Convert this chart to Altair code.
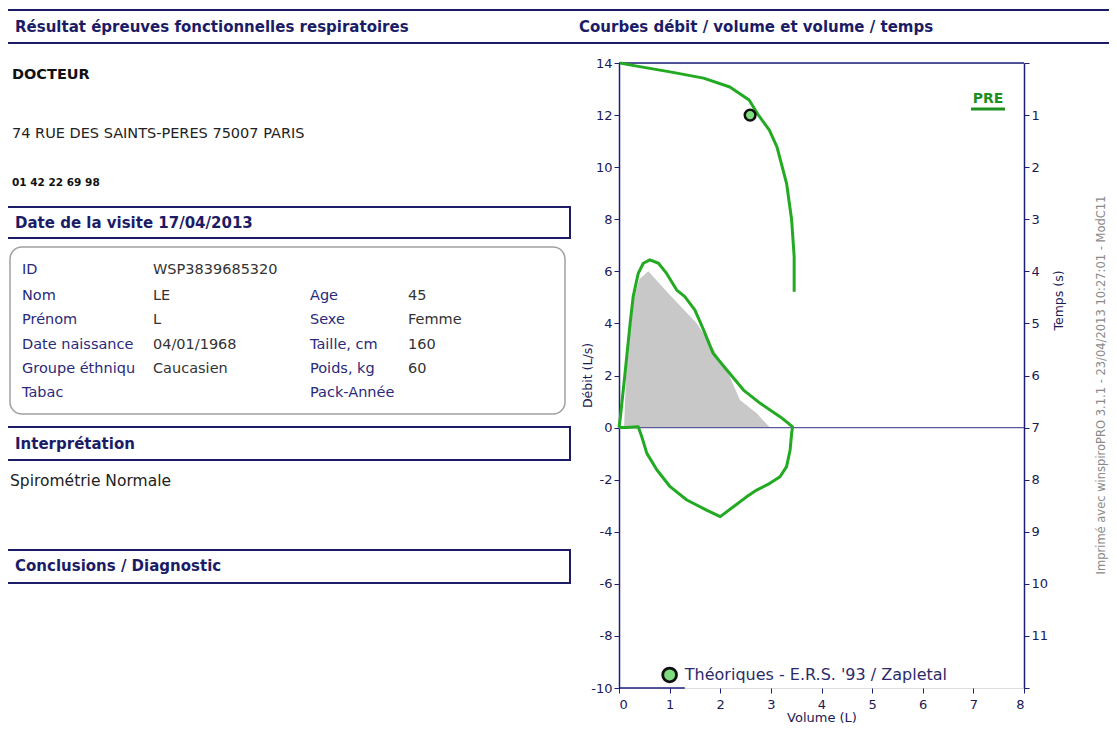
import altair as alt
import pandas as pd

# ---------------- data ----------------
# Flow-volume loop (PRE): volume (L), flow (L/s), in drawing order
LOOP_VOL = [0.00, 0.03, 0.12, 0.22, 0.28, 0.38, 0.48, 0.61, 0.78, 0.94, 1.14, 1.30, 1.50, 1.67,
            1.86, 2.13, 2.46, 2.79, 3.18, 3.31, 3.43,
            3.41, 3.38, 3.31, 3.18, 2.98, 2.72, 2.52, 2.26, 2.00, 1.73, 1.34, 1.01, 0.75, 0.55,
            0.45, 0.38, 0.15, 0.00]
LOOP_FLOW = [0.00, 0.45, 2.10, 4.00, 5.03, 5.92, 6.31, 6.44, 6.31, 5.92, 5.28, 5.03, 4.51, 3.75,
             2.85, 2.21, 1.44, 0.93, 0.42, 0.22, 0.03,
             -0.22, -0.86, -1.50, -1.89, -2.14, -2.40, -2.66, -3.04, -3.42, -3.17, -2.78, -2.27,
             -1.63, -0.99, -0.35, 0.03, 0.00, 0.00]

# Predicted (theoretical) expiratory flow-volume area
PRED_VOL = [0.10, 0.14, 0.24, 0.30, 0.40, 0.58, 1.00, 1.54, 1.90, 2.13, 2.39, 2.72, 2.98]
PRED_FLOW = [0.00, 2.00, 4.00, 5.00, 5.70, 6.00, 5.10, 4.00, 2.90, 2.20, 1.06, 0.55, 0.00]

# Volume-time curve (PRE): time (s), volume (L)
VT_TIME = [0.00, 0.06, 0.17, 0.29, 0.46, 0.71, 0.98, 1.29, 1.61, 2.31, 3.01, 3.72, 4.39]
VT_VOL = [0.02, 0.35, 1.01, 1.67, 2.19, 2.57, 2.74, 2.97, 3.12, 3.31, 3.41, 3.46, 3.46]

# Predicted FEV1 marker (volume, time)
FEV1_PRED_VOL = [2.59]
FEV1_PRED_TIME = [1.0]

X_TICKS = [0, 1, 2, 3, 4, 5, 6, 7, 8]
Y_TICKS = [-10, -8, -6, -4, -2, 0, 2, 4, 6, 8, 10, 12, 14]
T_TICKS = [0, 1, 2, 3, 4, 5, 6, 7, 8, 9, 10, 11, 12]

# Document texts
TITLE_LEFT = "Résultat épreuves fonctionnelles respiratoires"
TITLE_RIGHT = "Courbes débit / volume et volume / temps"
DOCTOR = "DOCTEUR"
ADDRESS = "74 RUE DES SAINTS-PERES 75007 PARIS"
PHONE = "01 42 22 69 98"
VISIT = "Date de la visite 17/04/2013"
INFO_LEFT_LABELS = ["ID", "Nom", "Prénom", "Date naissance", "Groupe éthniqu", "Tabac"]
INFO_LEFT_VALUES = ["WSP3839685320", "LE", "L", "04/01/1968", "Caucasien", ""]
INFO_RIGHT_LABELS = ["", "Age", "Sexe", "Taille, cm", "Poids, kg", "Pack-Année"]
INFO_RIGHT_VALUES = ["", "45", "Femme", "160", "60", ""]
INTERP = "Interprétation"
INTERP_TEXT = "Spirométrie Normale"
CONCL = "Conclusions / Diagnostic"
PRE_LABEL = "PRE"
THEO_LABEL = "Théoriques - E.R.S. '93 / Zapletal"
PRINTED = "Imprimé avec winspiroPRO 3.1.1 - 23/04/2013 10:27:01 - ModC11"

# ---------------- styles ----------------
FONT = "DejaVu Sans"
NAVY = "#1e1e78"
HEAD = "#1c1c66"
LABEL_NAVY = "#2a2a7a"
VALUE = "#333333"
GREEN = "#22aa22"
LIGHT_GREEN = "#7fdc7f"
GRAY_FILL = "#c8c8c8"
AXIS_TXT = "#1a1a55"

W, H = 405, 625
PAD_L, PAD_T = 611, 55

# ---------------- plot ----------------
xs = alt.Scale(domain=[0, 8], nice=False, zero=False)
ys = alt.Scale(domain=[-10, 14], nice=False, zero=False)
ts = alt.Scale(domain=[0, 12], nice=False, zero=False, reverse=True)

x_axis = alt.Axis(values=X_TICKS, title="Volume (L)", domain=False, grid=False,
                  tickColor=NAVY, tickSize=5, tickWidth=1, labelFontSize=13, labelColor=AXIS_TXT,
                  labelPadding=5, titleFontSize=13, titleFontWeight="normal", titleColor=AXIS_TXT,
                  titlePadding=0, labelFont=FONT, titleFont=FONT)
y_axis = alt.Axis(values=Y_TICKS, title="Débit (L/s)", orient="left", grid=False,
                  labelExpr="(datum.value < 0 ? '-' : '') + abs(datum.value)",
                  domainColor=NAVY, domainWidth=1.5, tickColor=NAVY, tickSize=5,
                  labelFontSize=13, labelColor=AXIS_TXT, labelPadding=2, labelFont=FONT,
                  titleFont=FONT, titleFontSize=12.5, titleFontWeight="normal", titleColor=AXIS_TXT,
                  titleAngle=270, titleX=-32, titleY=312, titleAlign="center", titleBaseline="middle")
t_axis = alt.Axis(values=T_TICKS, title="Temps (s)", orient="right", grid=False,
                  labelExpr="datum.value == 0 || datum.value == 12 ? '' : datum.label",
                  domainColor=NAVY, domainWidth=1.5, tickColor=NAVY, tickSize=5,
                  labelFontSize=13, labelColor=AXIS_TXT, labelPadding=2, labelFont=FONT,
                  titleFont=FONT, titleFontSize=12.5, titleFontWeight="normal", titleColor=AXIS_TXT,
                  titleAngle=270, titleX=34, titleY=237, titleAlign="center", titleBaseline="middle")

X = alt.X("v:Q", scale=xs, axis=x_axis)
Y = alt.Y("f:Q", scale=ys, axis=y_axis)
T = alt.Y("t:Q", scale=ts, axis=t_axis)

pred_df = pd.DataFrame({"v": PRED_VOL, "f": PRED_FLOW, "f0": [0] * len(PRED_VOL)})
loop_df = pd.DataFrame({"v": LOOP_VOL, "f": LOOP_FLOW, "i": list(range(len(LOOP_VOL)))})
vt_df = pd.DataFrame({"v": VT_VOL, "t": VT_TIME, "i": list(range(len(VT_VOL)))})
fev_df = pd.DataFrame({"v": FEV1_PRED_VOL, "t": FEV1_PRED_TIME})

area = alt.Chart(pred_df).mark_area(color=GRAY_FILL, opacity=1).encode(x=X, y=Y, y2="f0:Q")
zero_line = alt.Chart(pd.DataFrame({"v": [0], "v2": [8], "f": [0]})).mark_rule(
    color="#5a5aa0", strokeWidth=1.2).encode(x=X, x2="v2:Q", y=Y)
top_line = alt.Chart(pd.DataFrame({"v": [0], "v2": [8], "f": [14]})).mark_rule(
    color=NAVY, strokeWidth=1.5).encode(x=X, x2="v2:Q", y=Y)
bottom_line = alt.Chart(pd.DataFrame({"v": [0], "v2": [1.3], "f": [-10]})).mark_rule(
    color=NAVY, strokeWidth=1.5).encode(x=X, x2="v2:Q", y=Y)
loop = alt.Chart(loop_df).mark_line(color=GREEN, strokeWidth=3, strokeJoin="round").encode(
    x=X, y=Y, order="i:Q")
theo_pt = alt.Chart(pd.DataFrame({"v": [1.0], "f": [-9.5]})).mark_point(
    shape="circle", filled=True, fill=LIGHT_GREEN, stroke="#111111", strokeWidth=2.8,
    size=190, opacity=1).encode(x=X, y=Y)
theo_txt = alt.Chart(pd.DataFrame({"v": [1.3], "f": [-9.5], "s": [THEO_LABEL]})).mark_text(
    align="left", baseline="middle", fontSize=16, color="#2b2b6b", font=FONT).encode(
    x=X, y=Y, text="s:N")

flow_group = alt.layer(area, zero_line, top_line, bottom_line, loop, theo_pt, theo_txt)

vt_line = alt.Chart(vt_df).mark_line(color=GREEN, strokeWidth=3, strokeJoin="round").encode(
    x=X, y=T, order="i:Q")
fev_pt = alt.Chart(fev_df).mark_point(
    shape="circle", filled=True, fill=LIGHT_GREEN, stroke="#111111", strokeWidth=2.5,
    size=115, opacity=1).encode(x=X, y=T)
time_group = alt.layer(vt_line, fev_pt)


# ---------------- document helpers (pixel positions relative to plot origin) ----------------
def txt(s, px, py, size=14.5, weight="normal", color=VALUE, align="left", angle=None):
    kw = dict(align=align, baseline="middle", fontSize=size, fontWeight=weight,
              color=color, font=FONT)
    if angle is not None:
        kw["angle"] = angle
    return alt.Chart(pd.DataFrame({"s": [s]})).mark_text(**kw).encode(
        x=alt.value(px - 8 - PAD_L), y=alt.value(py - 8 - PAD_T), text="s:N")


def box(x1, x2, y1, y2, stroke=HEAD, sw=2, radius=0):
    kw = dict(fill="white", fillOpacity=0, stroke=stroke, strokeWidth=sw)
    if radius:
        kw["cornerRadius"] = radius
    return alt.Chart(pd.DataFrame({"k": [0]})).mark_rect(**kw).encode(
        x=alt.value(x1 - 8 - PAD_L), x2=alt.value(x2 - 8 - PAD_L),
        y=alt.value(y1 - 8 - PAD_T), y2=alt.value(y2 - 8 - PAD_T))


def hrule(x1, x2, y, color, sw):
    return alt.Chart(pd.DataFrame({"k": [0]})).mark_rule(color=color, strokeWidth=sw).encode(
        x=alt.value(x1 - 8 - PAD_L), x2=alt.value(x2 - 8 - PAD_L), y=alt.value(y - 8 - PAD_T))


doc = []
doc.append(box(7, 1130, 10, 43))
doc.append(txt(TITLE_LEFT, 15, 27, size=15, weight="bold", color=HEAD))
doc.append(txt(TITLE_RIGHT, 579, 27, size=15, weight="bold", color=HEAD))
doc.append(txt(DOCTOR, 12, 75, size=14.5, weight="bold", color="#111111"))
doc.append(txt(ADDRESS, 12, 134, size=14.5, color="#222222"))
doc.append(txt(PHONE, 12, 183, size=10.5, weight="bold", color="#111111"))
doc.append(box(7, 570, 207, 238))
doc.append(txt(VISIT, 15, 223, size=15, weight="bold", color=HEAD))
doc.append(box(10, 565, 247, 414, stroke="#a0a0a0", sw=1.5, radius=12))
ROW_Y = [270, 296, 320, 345, 369, 393]
for i, s in enumerate(INFO_LEFT_LABELS):
    if s:
        doc.append(txt(s, 22, ROW_Y[i], color=LABEL_NAVY))
for i, s in enumerate(INFO_LEFT_VALUES):
    if s:
        doc.append(txt(s, 153, ROW_Y[i], color=VALUE))
for i, s in enumerate(INFO_RIGHT_LABELS):
    if s:
        doc.append(txt(s, 310, ROW_Y[i], color=LABEL_NAVY))
for i, s in enumerate(INFO_RIGHT_VALUES):
    if s:
        doc.append(txt(s, 408, ROW_Y[i], color=VALUE))
doc.append(box(7, 570, 427, 460))
doc.append(txt(INTERP, 15, 444, size=15, weight="bold", color=HEAD))
doc.append(txt(INTERP_TEXT, 10, 481, size=15.5, color="#222222"))
doc.append(box(7, 570, 550, 583))
doc.append(txt(CONCL, 15, 566, size=15, weight="bold", color=HEAD))
# PRE legend label + underline
doc.append(txt(PRE_LABEL, 988, 99, size=14, weight="bold", color="#1f8f1f", align="center"))
doc.append(hrule(971, 1005, 109, "#1f8f1f", 3))
# printed footer (rotated)
doc.append(txt(PRINTED, 1102, 385, size=11.5, color="#8a8a8a", align="center", angle=270))

chart = alt.layer(flow_group, time_group, *doc).resolve_scale(y="independent").properties(
    width=W, height=H,
    autosize=alt.AutoSizeParams(type="none"),
    padding={"left": PAD_L, "top": PAD_T, "right": 85, "bottom": 35},
).configure_view(stroke=None).configure(background="white", font=FONT)

chart.save("out.html", embed_options={"renderer": "svg", "actions": False})
